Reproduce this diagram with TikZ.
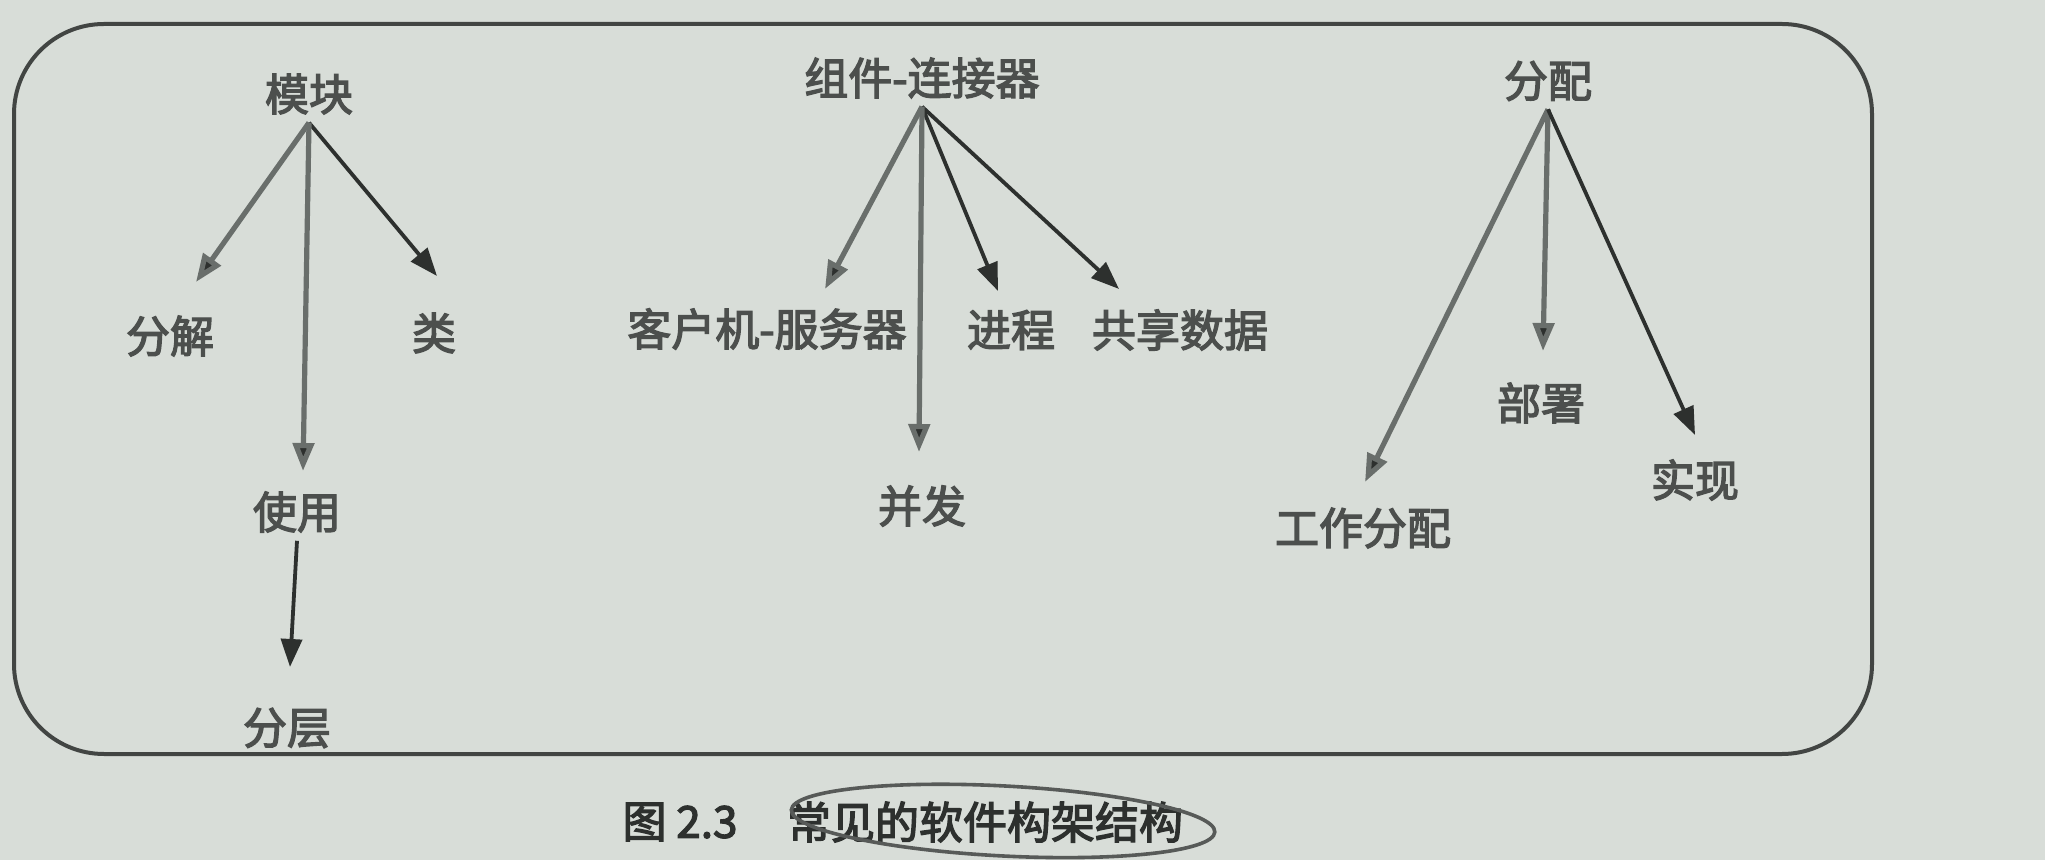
\documentclass[tikz,border=0pt]{standalone}
\usepackage{fontspec}
\newfontfamily\cjk[FakeBold=3]{Noto Sans CJK SC}
\usetikzlibrary{arrows.meta,calc}
\definecolor{paper}{RGB}{216,221,216}
\definecolor{ink}{RGB}{45,48,46}
\definecolor{inklight}{RGB}{105,110,107}
\begin{document}
\begin{tikzpicture}[x=0.5pt,y=-0.5pt,
  lbl/.style={font=\cjk\fontsize{22pt}{24pt}\selectfont, text=ink!85, inner sep=4pt},
  arr/.style={draw=ink, line width=1.9pt, -{Triangle[length=14pt,width=10.5pt]}},
  arrl/.style={draw=inklight, line width=2.6pt, -{Triangle[length=14pt,width=10.5pt,fill=ink]}},
  frame/.style={draw=ink!90, line width=2pt, rounded corners=45pt}]
\useasboundingbox[fill=paper] (0,0) rectangle (2045,860);
% frame
\draw[frame] (14,24) rectangle (1872,754);
% group 1: module
\node[lbl] (mk) at (309,94) {模块};
\node[lbl] (fj) at (170,336) {分解};
\node[lbl] (lei) at (434,333) {类};
\node[lbl] (sy) at (297,512) {使用};
\node[lbl] (fc) at (287,728) {分层};
\coordinate (fjT) at (196,282);
\coordinate (leiT) at (437,276);
\coordinate (syT) at (303,471);
\coordinate (fcT) at (290,667);
\draw[arrl] (mk.south) -- (fjT);
\draw[arr] (mk.south) -- (leiT);
\draw[arrl] (mk.south) -- (syT);
\draw[arr] (sy.south) -- (fcT);
% group 2: component-connector
\node[lbl] (cc) at (922,78) {组件-连接器};
\node[lbl] (cs) at (767,329) {客户机-服务器};
\node[lbl] (jc) at (1011,330) {进程};
\node[lbl] (gx) at (1180,330) {共享数据};
\node[lbl] (bf) at (922,506) {并发};
\coordinate (csT) at (825,289);
\coordinate (jcT) at (998,291);
\coordinate (gxT) at (1119,289);
\coordinate (bfT) at (919,452);
\draw[arrl] (cc.south) -- (csT);
\draw[arr] (cc.south) -- (jcT);
\draw[arr] (cc.south) -- (gxT);
\draw[arrl] (cc.south) -- (bfT);
% group 3: allocation
\node[lbl] (fp) at (1548,81) {分配};
\node[lbl] (bs) at (1541,403) {部署};
\node[lbl] (gz) at (1363,528) {工作分配};
\node[lbl] (sx) at (1695,480) {实现};
\coordinate (bsT) at (1543,351);
\coordinate (gzT) at (1365,482);
\coordinate (sxT) at (1695,435);
\draw[arrl] (fp.south) -- (bsT);
\draw[arrl] (fp.south) -- (gzT);
\draw[arr] (fp.south) -- (sxT);
% caption
\node[lbl, text=ink] (fig) at (680,822) {图 2.3};
\node[lbl, text=ink] (cap) at (985,822) {常见的软件构架结构};
\draw[ink!80, line width=1.8pt, rotate around={-3:($(cap.center)+(18,-2)$)}] ($(cap.center)+(18,-2)$) ellipse [x radius=212, y radius=35];
\end{tikzpicture}
\end{document}
